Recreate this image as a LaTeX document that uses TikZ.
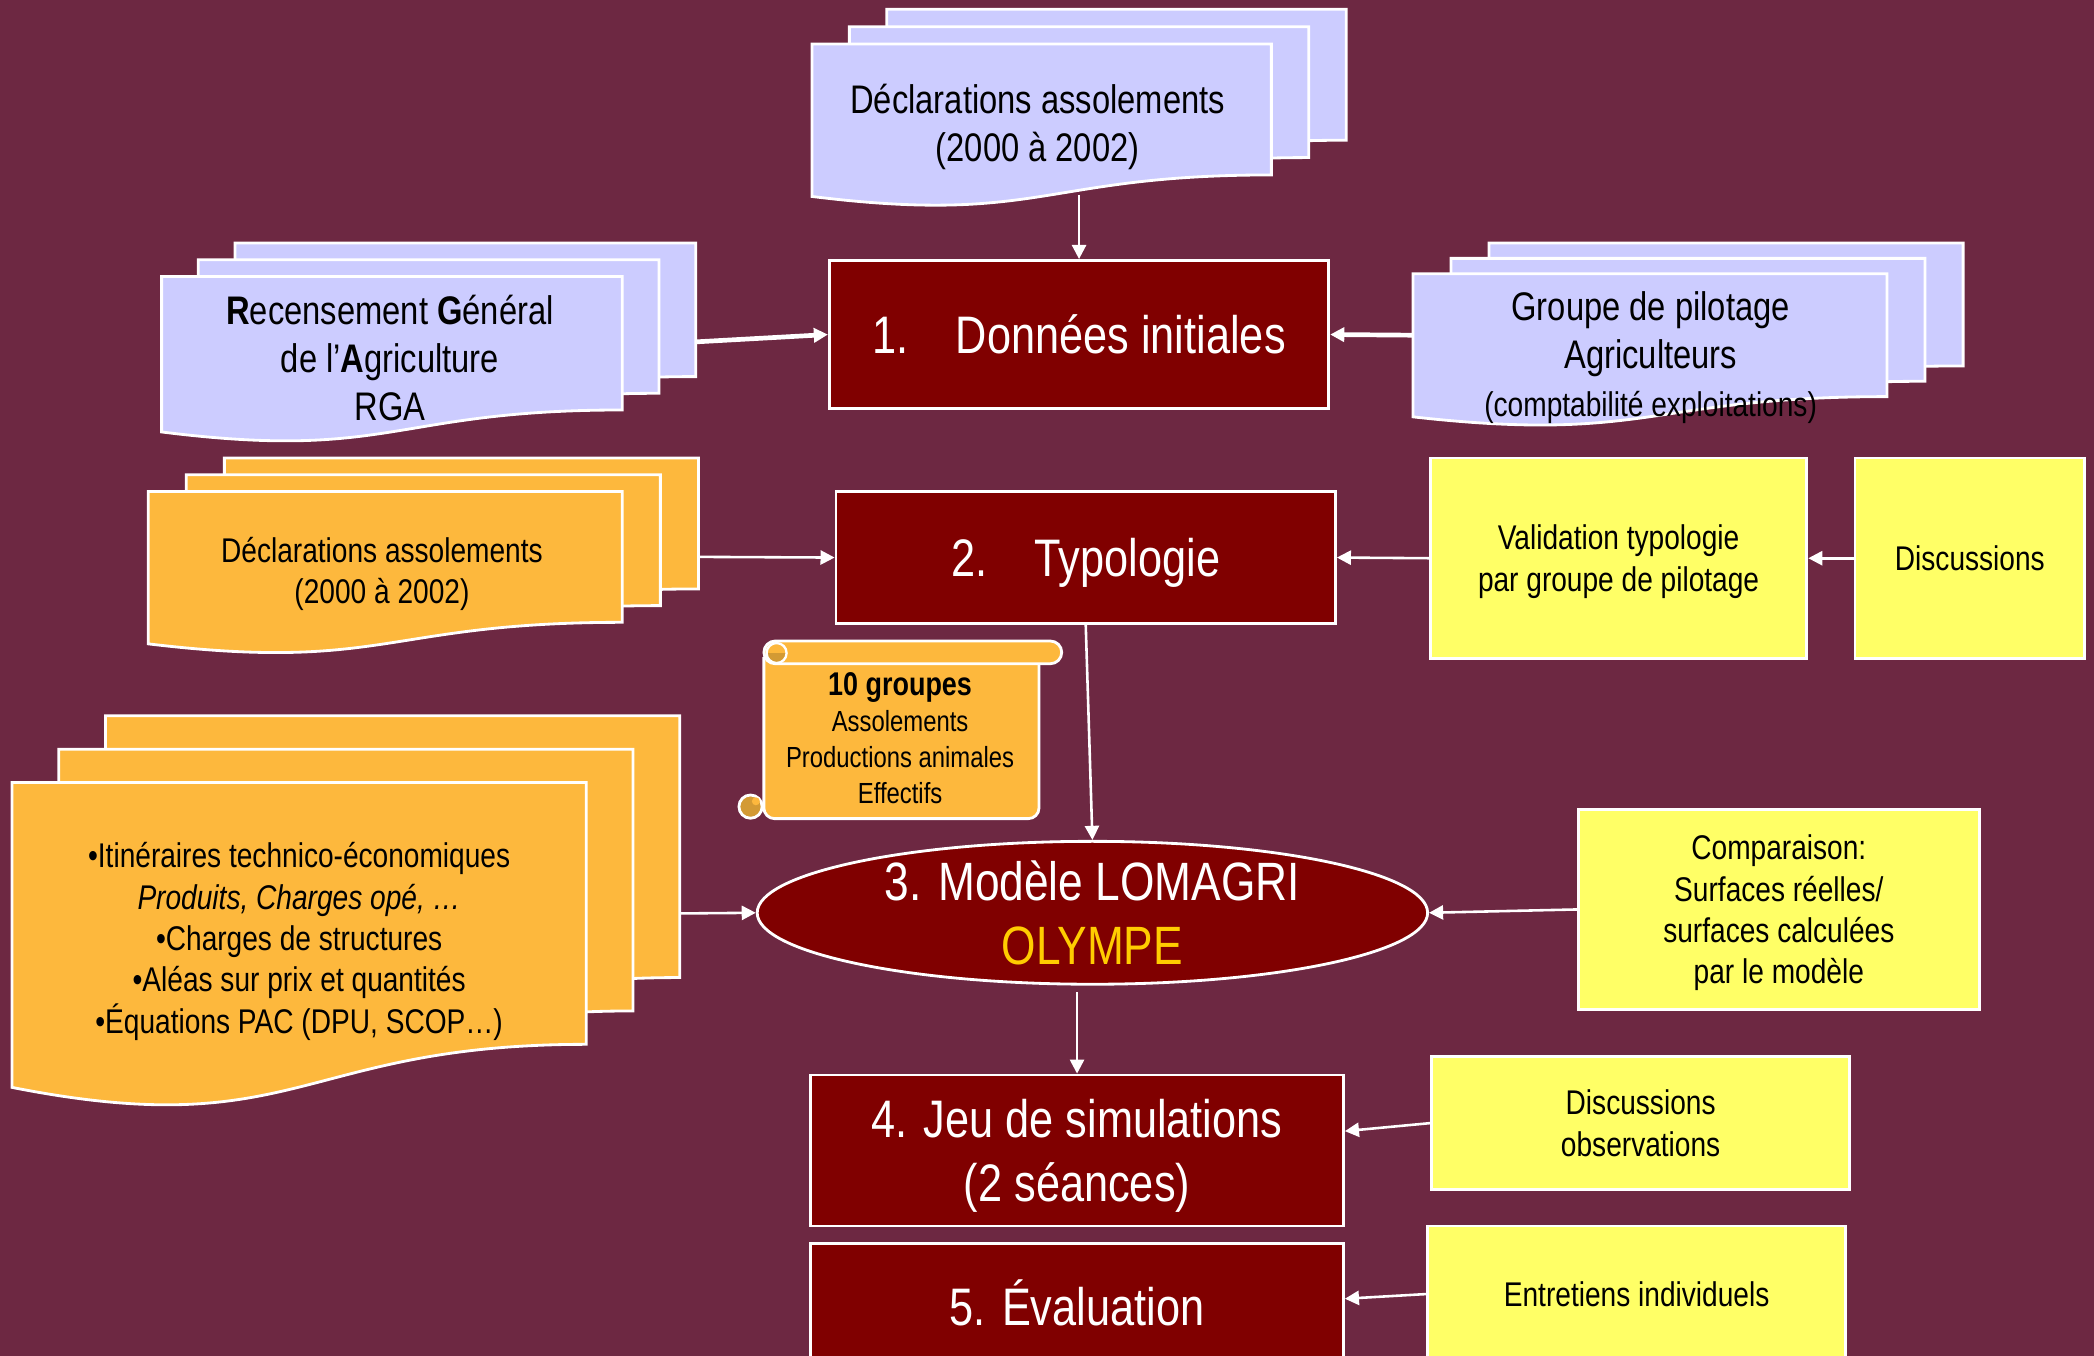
\documentclass[tikz,border=0pt]{standalone}
\usepackage{fontspec}
\setmainfont[FakeStretch=0.82]{Liberation Sans}
\usetikzlibrary{shapes.geometric,arrows.meta}

\definecolor{backdrop}{HTML}{6D2842}
\definecolor{stagered}{HTML}{800000}
\definecolor{docblue}{HTML}{CCCCFF}
\definecolor{docorange}{HTML}{FDB83D}
\definecolor{noteyellow}{HTML}{FFFF66}
\definecolor{olympe}{HTML}{FFCC00}
\definecolor{curl}{HTML}{D39A34}

\tikzset{
  sheet/.style={draw=white,line width=1.2pt},
  stage/.style={sheet,fill=stagered,text=white,inner sep=0pt,text depth=0pt,align=center,font=\fontsize{22.5}{27}\selectfont},
  note/.style={sheet,fill=noteyellow,inner sep=0pt,text depth=0pt,align=center,font=\fontsize{14.6}{17.6}\selectfont},
  doctext/.style={align=center,font=\fontsize{17}{20.4}\selectfont},
  smalltext/.style={align=center,font=\fontsize{14.6}{17.6}\selectfont},
  conn/.style={draw=white,line width=1.1pt,-{Triangle[length=6pt,width=6pt]}},
}

% pile of three sheets: fill, left, top, right, height, shift per sheet
\newcommand{\docpile}[7]{%
  \foreach \k in {2,1,0}{
    \filldraw[sheet,fill=#1,shift={(\k*#6,\k*#7)}] (#2,#3) -- (#4,#3) -- (#4,#3+#5)
      .. controls ({(#2+#4)/2},#3+#5) and ({(#2+#4)/2},#3+1.381*#5) .. (#2,#3+1.1645*#5) -- cycle;
  }}

\begin{document}
\begin{tikzpicture}[x=0.2mm,y=-0.2mm]
  \useasboundingbox (0,0) rectangle (1568,1015);
  \fill[backdrop] (0,0) rectangle (1568,1015);

  % sources
  \docpile{docblue}{608}{33}{952}{98}{28}{-13}
  \docpile{docblue}{121}{207}{466}{100}{27.5}{-12.5}
  \docpile{docblue}{1058}{205}{1413}{92}{28.5}{-11.5}
  \docpile{docorange}{111}{368}{466}{98}{28.5}{-12.5}
  \docpile{docorange}{9}{586}{439}{196}{35}{-25}

  \node[doctext] (decl) at (777,95) {Déclarations assolements\\(2000 à 2002)};
  \node[doctext] (rga) at (292,268) {\textbf{R}ecensement \textbf{G}énéral\\de l’\textbf{A}griculture\\RGA};
  \node[doctext] (pilot) at (1236,268) {Groupe de pilotage\\Agriculteurs\\{\fontsize{14.6}{17.6}\selectfont(comptabilité exploitations)}};
  \node[smalltext] (declb) at (286,430) {Déclarations assolements\\(2000 à 2002)};
  \node[smalltext] (itin) at (224,705) {•Itinéraires technico-économiques\\\textit{Produits, Charges opé, …}\\•Charges de structures\\•Aléas sur prix et quantités\\•Équations PAC (DPU, SCOP…)};

  % scroll
  \draw[sheet,fill=docorange,rounded corners=1.6mm] (572,492) -- (572,613) -- (778,613) -- (778,492);
  \draw[sheet,fill=docorange,rounded corners=1.7mm] (572,480) rectangle (795,497);
  \fill[curl] (574,489) arc[start angle=180,end angle=0,radius=7.5] -- cycle;
  \draw[white,line width=1pt] (581.5,489) circle[radius=7.5];
  \draw[sheet,fill=curl] (562,604) circle[radius=8.7];
  \fill[docorange] (566,600) circle[radius=3];
  \node[align=center,font=\fontsize{12.4}{15.3}\selectfont] (groups) at (674,553) {{\fontsize{14}{16}\selectfont\bfseries 10 groupes}\\Assolements\\Productions animales\\Effectifs};

  % stages
  \node[stage,minimum width=74.8mm,minimum height=22.2mm] (box1) at (808,250.5) {1.\hspace{0.9em}Données initiales};
  \node[stage,minimum width=74.8mm,minimum height=19.8mm] (box2) at (813,417.5) {2.\hspace{0.9em}Typologie};
  \node[ellipse,sheet,fill=stagered,minimum width=100.4mm,minimum height=21.4mm,inner sep=0pt] (model) at (818,683.5) {};
  \node[align=center,text=white,font=\fontsize{23}{27.3}\selectfont] (modeltext) at (model.center) {3. Modèle LOMAGRI\\\textcolor{olympe}{OLYMPE}};
  \node[stage,minimum width=79.8mm,minimum height=22.6mm] (box4) at (806.5,861.5) {4. Jeu de simulations\\(2 séances)};
  \node[stage,minimum width=79.8mm,minimum height=17.8mm] (box5) at (806.5,975.5) {5. Évaluation};

  % notes
  \node[note,minimum width=56.4mm,minimum height=30mm] (valid) at (1212,418) {Validation typologie\\par groupe de pilotage};
  \node[note,minimum width=34.4mm,minimum height=30mm] (disc) at (1475,418) {Discussions};
  \node[note,minimum width=60mm,minimum height=30mm] (comp) at (1332,681) {Comparaison:\\Surfaces réelles/\\surfaces calculées\\par le modèle};
  \node[note,minimum width=62.6mm,minimum height=20mm] (obs) at (1228.5,841) {Discussions\\observations};
  \node[note,minimum width=62.6mm,minimum height=20.4mm] (entr) at (1225.5,969) {Entretiens individuels};

  % connectors
  \coordinate (decl-out) at (808,146);
  \coordinate (rga-out) at (521,256);
  \coordinate (pilot-out) at (1058,251);
  \coordinate (declb-out) at (523,417);
  \coordinate (itin-out) at (509,684);
  \draw[conn] (decl-out) -- (box1.north);
  \draw[conn,line width=2pt] (rga-out) -- (box1.west);
  \draw[conn,line width=2pt] (pilot-out) -- (box1.east);
  \draw[conn] (declb-out) -- (box2.west);
  \draw[conn] (valid.west) -- (box2.east);
  \draw[conn] (disc.west) -- (valid.east);
  \draw[conn] (box2.south) -- (model.north);
  \draw[conn] (itin-out) -- (model.west);
  \draw[conn] (comp.west) -- (model.east);
  \draw[conn,shorten <=1mm] (box4.north |- model.south) -- (box4.north);
  \draw[conn] (obs.west) -- ([yshift=2.9mm]box4.east);
  \draw[conn] (entr.west) -- ([yshift=0.6mm]box5.east);
\end{tikzpicture}
\end{document}
